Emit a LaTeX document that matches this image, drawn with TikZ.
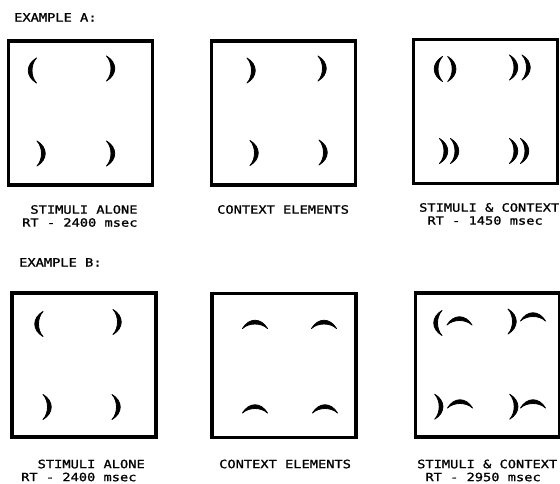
\documentclass[tikz,border=0pt]{standalone}
\usepackage{fontspec}
\newfontfamily\plotter[FakeStretch=1.2, FakeBold=1.2]{DejaVu Sans Mono}

\begin{document}
\begin{tikzpicture}[
    x=1pt, y=-1pt,
    panel/.style={draw, line width=3.5pt, minimum width=144pt, minimum height=144pt, inner sep=0pt},
    heading/.style={font={\plotter\fontsize{11.4}{13}\selectfont}, inner sep=0pt, anchor=north west},
    caption/.style={heading, align=left},
    crescent/.pic={
        \fill[draw, line width=0.8pt, line join=round] (-4,-12.5) .. controls (7,-6) and (7,6) .. (-4,12.5)
            .. controls (2,6) and (2,-6) .. cycle;
    },
]
\useasboundingbox (0,0) rectangle (560,484);

% Example A
\node[heading] (headA) at (14,13) {EXAMPLE A:};

\node[panel] (a1) at (80.5,113) {};
\node[panel] (a2) at (283.5,113) {};
\node[panel] (a3) at (485.5,111.5) {};

% stimuli alone
\pic[rotate=180] at (32.5,70.5) {crescent};
\pic at (110.5,68.5) {crescent};
\pic at (41,153.5) {crescent};
\pic at (110.5,153.5) {crescent};

% context elements
\pic at (251,70.5) {crescent};
\pic at (322,68.5) {crescent};
\pic at (254,153) {crescent};
\pic at (323,152.5) {crescent};

% stimuli & context
\pic[rotate=180] at (438.5,69) {crescent};
\pic at (451.7,69) {crescent};
\pic at (513.5,67.5) {crescent};
\pic at (526,67.5) {crescent};
\pic at (443.5,151) {crescent};
\pic at (454.5,151) {crescent};
\pic at (513.5,151) {crescent};
\pic at (524.5,151) {crescent};

\node[caption] (capA1) at (22,205) {\hphantom{R}STIMULI ALONE\\RT - 2400 msec};
\node[caption] (capA2) at (217,205) {CONTEXT ELEMENTS};
\node[caption] (capA3) at (419,203) {STIMULI \& CONTEXT\\\hphantom{S}RT - 1450 msec};

% Example B
\node[heading] (headB) at (19,258) {EXAMPLE B:};

\node[panel] (b1) at (84,365) {};
\node[panel] (b2) at (284,365.5) {};
\node[panel] (b3) at (487.5,365) {};

% stimuli alone
\pic[rotate=180] at (39,324) {crescent};
\pic at (117,322) {crescent};
\pic at (47,407) {crescent};
\pic at (116,407) {crescent};

% context elements
\pic[rotate=90] at (255,324.5) {crescent};
\pic[rotate=90] at (324,324.5) {crescent};
\pic[rotate=90] at (255,409) {crescent};
\pic[rotate=90] at (325,409) {crescent};

% stimuli & context
\pic[rotate=180] at (438,323) {crescent};
\pic[rotate=90] at (459.5,321) {crescent};
\pic at (512,321.5) {crescent};
\pic[rotate=90] at (533,317) {crescent};
\pic at (438.7,406.7) {crescent};
\pic[rotate=90] at (460,404) {crescent};
\pic at (513.7,406.7) {crescent};
\pic[rotate=90] at (533,404) {crescent};

\node[caption] (capB1) at (21,459.5) {\hphantom{RT}STIMULI ALONE\\RT - 2400 msec};
\node[caption] (capB2) at (219,459.5) {CONTEXT ELEMENTS};
\node[caption] (capB3) at (417,459.5) {STIMULI \& CONTEXT\\\hphantom{S}RT - 2950 msec};

\end{tikzpicture}
\end{document}
